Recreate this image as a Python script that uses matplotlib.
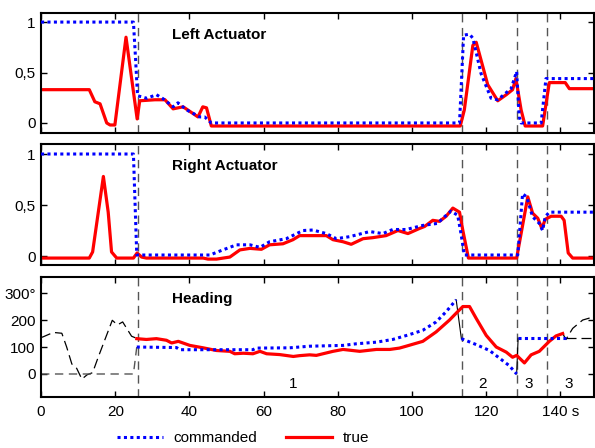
import matplotlib
matplotlib.use("Agg")
import matplotlib.pyplot as plt
from matplotlib.lines import Line2D

plt.rcParams['font.family'] = ['Liberation Sans', 'DejaVu Sans']
plt.rcParams['font.size'] = 11

# ---- data ----
phase_times = [26.0, 113.5, 128.4, 136.5]
phase_labels = ['1', '2', '3', '3']
phase_label_t = [68.0, 119.0, 131.4, 142.2]

t_left_cmd = [0, 24.9, 25.5, 26.0, 28.5, 31.1, 32.9, 35.6, 36.9, 39.2, 42.8, 44.1, 45.9,
              112.8, 113.9, 115.5, 116.4, 118.6, 121.3, 123.1, 126.7, 128.2, 128.9, 129.4,
              134.8, 136.1, 149]
left_cmd = [1, 1, 0.62, 0.27, 0.245, 0.28, 0.24, 0.16, 0.20, 0.13, 0.06, 0.06, 0.0,
            0.0, 0.87, 0.88, 0.84, 0.49, 0.245, 0.23, 0.34, 0.51, 0.06, 0.0,
            0.0, 0.44, 0.44]

t_left_true = [0, 13, 14.5, 15.9, 17.7, 18.6, 19.9, 22.9, 25.9, 26.6, 30.7, 33.4, 35.6, 38.3,
               42.3, 43.6, 44.6, 45.9, 113.0, 114.1, 116.4, 117.3, 120.4, 123.1, 125.4,
               127.1, 128.0, 129.4, 130.5, 135.2, 137.0, 141.3, 142.4, 149]
left_true = [0.33, 0.33, 0.21, 0.19, 0.0, -0.02, -0.02, 0.85, 0.04, 0.22, 0.23, 0.23, 0.14, 0.16,
             0.06, 0.16, 0.15, -0.03, -0.03, 0.13, 0.77, 0.80, 0.38, 0.22, 0.28,
             0.33, 0.44, 0.13, -0.03, -0.03, 0.40, 0.40, 0.34, 0.34]

t_right_cmd = [0, 24.9, 25.8, 45.5, 49, 52.7, 56.3, 59, 61.6, 66.1, 70.6, 73.3, 76.9, 79.6,
               83.2, 88.6, 92.1, 94.8, 98.4, 102.9, 106.9, 108.3, 110.5, 112.3, 113.2, 114.1,
               128.5, 129.8, 130.9, 132.5, 134.3, 135.2, 135.9, 137, 149]
right_cmd = [1, 1, 0.01, 0.01, 0.06, 0.11, 0.11, 0.085, 0.14, 0.17, 0.25, 0.255, 0.22, 0.17,
             0.19, 0.24, 0.22, 0.26, 0.26, 0.30, 0.32, 0.37, 0.44, 0.40, 0.22, 0.01,
             0.01, 0.61, 0.58, 0.385, 0.32, 0.25, 0.385, 0.43, 0.43]

t_right_true = [0, 13, 13.9, 15, 16.8, 18.1, 19, 20.4, 24.9, 25.9, 27.1, 28.4, 43.7, 45, 47.3,
                50.9, 53.6, 56.3, 59.4, 61.6, 65.2, 67.9, 69.7, 73.3, 76.9, 78.7, 81.4, 83.6,
                86.8, 89.4, 93, 96.2, 98.9, 102, 103.4, 105.6, 107.4, 109.2, 111, 112.8, 113.7,
                115.2, 128.2, 131.2, 132.5, 133.9, 135, 135.9, 137.5, 140.2, 141, 142.1, 143.3, 149]
right_true = [-0.02, -0.02, 0.04, 0.32, 0.78, 0.43, 0.04, -0.02, -0.02, 0.03, -0.01, -0.02, -0.02,
              -0.03, -0.03, -0.01, 0.06, 0.075, 0.066, 0.11, 0.12, 0.16, 0.2, 0.2, 0.2, 0.16, 0.14,
              0.115, 0.17, 0.18, 0.2, 0.25, 0.22, 0.27, 0.29, 0.35, 0.34, 0.39, 0.47, 0.43, 0.25,
              -0.02, -0.02, 0.58, 0.42, 0.37, 0.27, 0.36, 0.39, 0.39, 0.35, 0.03, -0.02, -0.02]

# heading before / after control (black dashed)
t_head_pre = [0, 0.6, 3.3, 5.6, 6.9, 8.3, 9.6, 11.0, 12.4, 13.9, 15.4, 19.2, 20.6, 22.0, 24.4, 25.8]
head_pre = [135, 138, 154, 151, 100, 37, 21, -19, -3, 5, 62, 199, 182, 193, 140, 132]
t_head_cmd_pre = [0, 24.9, 25.8]
head_cmd_pre = [0, 0, 100]
t_head_post = [140.6, 141.5, 143.3, 146, 149]
head_post = [150, 128, 169, 200, 212]
t_head_cmd_post = [141.5, 149]
head_cmd_post = [133, 133]

# commanded heading, three segments
t_head_cmd1 = [25.8, 36.5, 37.4, 57.1, 58, 67, 72.4, 81.4, 85, 90.4, 94.8, 99.3, 102.9,
               106.5, 109.2, 111.9]
head_cmd1 = [100, 98, 90, 90, 96, 97, 103, 106, 112, 118, 128, 146, 162, 193, 231, 275]
t_head_cmd2 = [113.3, 117.3, 120.9, 124.4, 126.2, 128.2]
head_cmd2 = [131, 109, 87, 50, 31, 0]
t_head_cmd3 = [128.6, 141.5]
head_cmd3 = [133, 133]

t_head_true = [25.8, 28.4, 31.1, 33.8, 35.2, 37, 40.1, 43.7, 47.3, 50.9, 52.2, 54.5, 57.1, 59,
               60.8, 64.3, 68, 69.7, 72.4, 74.2, 78.7, 81.4, 85.9, 90.4, 94, 96.6, 98.4, 102.9,
               106.5, 110.1, 112.3, 113.7, 115.5, 117.3, 120, 122.7, 125.4, 127.1, 128.2, 130.3,
               132.1, 134.3, 137, 138.8, 140.6]
head_true = [131, 128, 131, 125, 115, 121, 106, 97, 87, 84, 75, 77, 75, 84,
             75, 72, 65, 68, 71, 69, 84, 91, 84, 91, 91, 96, 103, 121,
             156, 200, 231, 250, 250, 206, 143, 100, 81, 62, 69, 41,
             71, 84, 121, 141, 150]

BLUE = '#0000ff'
RED = '#ff0000'
cmd_style = dict(color=BLUE, lw=2.2, linestyle=(0, (1, 1.1)))
true_style = dict(color=RED, lw=2.3)

fig = plt.figure(figsize=(5.95, 4.48), dpi=100)
left, right = 0.069, 0.998
ax1 = fig.add_axes([left, 0.703, right - left, 0.268])
ax2 = fig.add_axes([left, 0.408, right - left, 0.271])
ax3 = fig.add_axes([left, 0.114, right - left, 0.268])

for ax in (ax1, ax2, ax3):
    ax.set_xlim(0, 149)
    ax.set_xticks([0, 20, 40, 60, 80, 100, 120, 140])
    ax.tick_params(direction='in', top=True, right=True, length=4, width=1, pad=4)
    for s in ax.spines.values():
        s.set_linewidth(1.5)
    for tp in phase_times:
        ax.axvline(tp, color='#555555', lw=1, linestyle=(0, (6, 4)), zorder=1)

# left actuator
ax1.plot(t_left_cmd, left_cmd, **cmd_style, zorder=3)
ax1.plot(t_left_true, left_true, **true_style, zorder=2)
ax1.set_ylim(-0.1, 1.09)
ax1.set_yticks([0, 0.5, 1])
ax1.set_yticklabels(['0', '0,5', '1'])
ax1.set_xticklabels([])
ax1.text(35.4, 0.87, 'Left Actuator', fontweight='bold', va='center')

# right actuator
ax2.plot(t_right_cmd, right_cmd, **cmd_style, zorder=3)
ax2.plot(t_right_true, right_true, **true_style, zorder=2)
ax2.set_ylim(-0.09, 1.1)
ax2.set_yticks([0, 0.5, 1])
ax2.set_yticklabels(['0', '0,5', '1'])
ax2.set_xticklabels([])
ax2.text(35.4, 0.885, 'Right Actuator', fontweight='bold', va='center')

# heading
dash_black = dict(color='black', lw=0.9, linestyle=(0, (8, 4)))
ax3.plot(t_head_pre, head_pre, **dash_black)
ax3.plot(t_head_post, head_post, **dash_black)
ax3.plot(t_head_cmd_post, head_cmd_post, **dash_black)
ax3.plot(t_head_cmd_pre, head_cmd_pre, color='#555555', lw=1, linestyle=(0, (6, 4)))
# thin jumps of the commanded heading
ax3.plot([t_head_cmd1[-1], t_head_cmd2[0]], [head_cmd1[-1], head_cmd2[0]], color='black', lw=0.8)
ax3.plot([t_head_cmd2[-1], t_head_cmd3[0]], [head_cmd2[-1], head_cmd3[0]], color='black', lw=0.8)
ax3.plot(t_head_cmd1, head_cmd1, **cmd_style, zorder=3)
ax3.plot(t_head_cmd2, head_cmd2, **cmd_style, zorder=3)
ax3.plot(t_head_cmd3, head_cmd3, **cmd_style, zorder=3)
ax3.plot(t_head_true, head_true, **true_style, zorder=2)
ax3.set_ylim(-85, 360)
ax3.set_yticks([0, 100, 200, 300])
ax3.set_yticklabels(['0', '100', '200', '300°'])
ax3.set_xticklabels(['0', '20', '40', '60', '80', '100', '120', '140 s'])
ax3.tick_params(axis='x', pad=6)
ax3.text(35.4, 277, 'Heading', fontweight='bold', va='center')
for lab, tl in zip(phase_labels, phase_label_t):
    ax3.text(tl, -37, lab, ha='center', va='center')

handles = [Line2D([], [], **cmd_style), Line2D([], [], **true_style)]
fig.legend(handles, ['commanded', 'true'], loc='center', bbox_to_anchor=(0.409, 0.022),
           ncol=2, frameon=False, handlelength=3.0, handletextpad=0.7, columnspacing=1.9,
           borderaxespad=0, borderpad=0)

fig.savefig('out.png', dpi=100)
